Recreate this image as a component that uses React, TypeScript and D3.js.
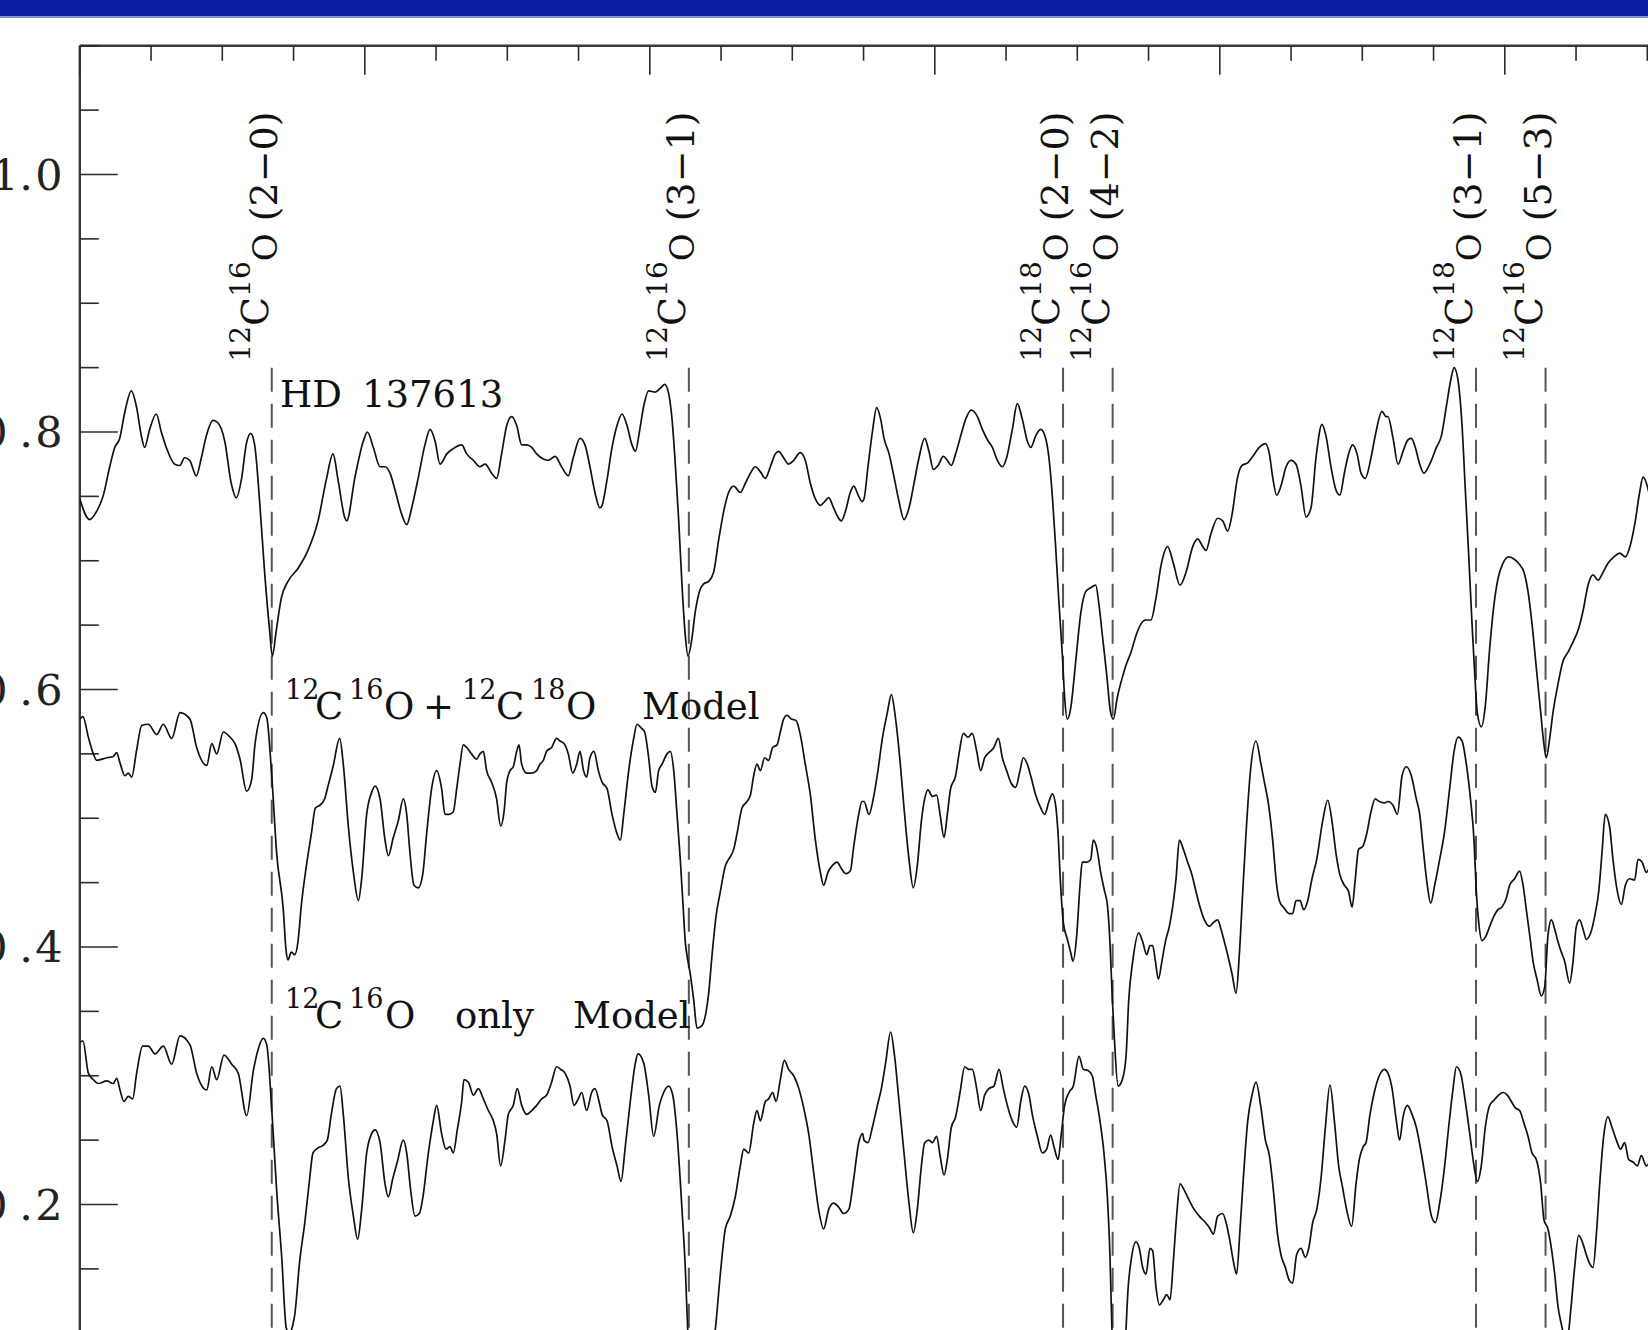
import React from "react";
import * as d3 from "d3";

// Spectrum of HD 137613 and two synthetic CO spectra (wavelength in µm, relative flux)
const observed: [number, number][] = [
  [2.28000,0.748],[2.28069,0.732],[2.28116,0.738],[2.28163,0.750],[2.28210,0.773],[2.28245,0.788],[2.28280,0.795],[2.28315,0.815],[2.28362,0.832],[2.28397,0.820],[2.28432,0.797],[2.28455,0.788],[2.28490,0.802],[2.28537,0.814],[2.28572,0.800],[2.28607,0.788],[2.28666,0.775],[2.28701,0.774],[2.28736,0.780],[2.28771,0.778],[2.28818,0.766],[2.28853,0.780],[2.28888,0.797],[2.28935,0.809],[2.28970,0.807],[2.29017,0.793],[2.29063,0.760],[2.29098,0.749],[2.29134,0.763],[2.29169,0.791],[2.29199,0.799],[2.29227,0.790],[2.29262,0.746],[2.29297,0.691],[2.29332,0.646],[2.29351,0.626],[2.29379,0.646],[2.29414,0.671],[2.29461,0.684],[2.29531,0.694],[2.29601,0.708],[2.29672,0.731],[2.29730,0.763],[2.29777,0.783],[2.29812,0.763],
  [2.29861,0.733],[2.29873,0.731],[2.29931,0.765],[2.29990,0.793],[2.30018,0.800],[2.30060,0.788],[2.30107,0.773],[2.30142,0.773],[2.30177,0.768],[2.30212,0.755],[2.30259,0.736],[2.30294,0.728],[2.30329,0.741],[2.30376,0.765],[2.30422,0.790],[2.30458,0.802],[2.30493,0.793],[2.30528,0.775],[2.30575,0.783],[2.30633,0.788],[2.30680,0.790],[2.30715,0.783],[2.30762,0.778],[2.30808,0.773],[2.30844,0.775],[2.30890,0.768],[2.30925,0.764],[2.30960,0.783],[2.30996,0.805],[2.31031,0.812],[2.31066,0.805],[2.31101,0.790],[2.31136,0.790],[2.31171,0.788],[2.31206,0.783],[2.31253,0.779],[2.31288,0.778],[2.31335,0.781],[2.31381,0.773],[2.31428,0.766],[2.31463,0.780],[2.31510,0.795],[2.31545,0.790],[2.31580,0.773],[2.31615,0.753],[2.31650,0.741],
  [2.31665,0.743],[2.31700,0.763],[2.31735,0.788],[2.31770,0.805],[2.31805,0.814],[2.31840,0.805],[2.31875,0.790],[2.31899,0.785],[2.31927,0.800],[2.31957,0.820],[2.31992,0.832],[2.32039,0.831],[2.32074,0.834],[2.32104,0.837],[2.32132,0.830],[2.32156,0.810],[2.32179,0.775],[2.32203,0.731],[2.32226,0.681],[2.32249,0.642],[2.32268,0.626],[2.32292,0.637],[2.32320,0.661],[2.32348,0.676],[2.32378,0.682],[2.32413,0.684],[2.32448,0.691],[2.32483,0.716],[2.32518,0.738],[2.32553,0.753],[2.32589,0.758],[2.32635,0.753],[2.32670,0.760],[2.32706,0.768],[2.32741,0.773],[2.32776,0.769],[2.32811,0.764],[2.32846,0.773],[2.32881,0.783],[2.32904,0.785],[2.32939,0.780],[2.32974,0.775],[2.33010,0.778],[2.33056,0.784],[2.33091,0.778],[2.33127,0.760],[2.33162,0.748],[2.33197,0.743],[2.33227,0.746],[2.33255,0.749],[2.33290,0.741],[2.33325,0.733],[2.33344,0.731],[2.33372,0.738],[2.33407,0.753],[2.33431,0.758],[2.33466,0.750],[2.33489,0.746],
  [2.33503,0.748],[2.33531,0.773],[2.33562,0.800],[2.33592,0.819],[2.33620,0.810],[2.33644,0.795],[2.33679,0.783],[2.33714,0.765],[2.33749,0.746],[2.33784,0.732],[2.33819,0.741],[2.33854,0.760],[2.33889,0.780],[2.33929,0.795],[2.33959,0.785],[2.33990,0.771],[2.34023,0.774],[2.34060,0.781],[2.34088,0.778],[2.34116,0.774],[2.34146,0.783],[2.34182,0.797],[2.34217,0.810],[2.34256,0.817],[2.34299,0.812],[2.34334,0.802],[2.34369,0.794],[2.34404,0.788],[2.34439,0.778],[2.34474,0.773],[2.34504,0.780],[2.34544,0.802],[2.34579,0.822],[2.34614,0.810],[2.34649,0.793],[2.34673,0.788],[2.34708,0.797],[2.34743,0.802],[2.34778,0.795],[2.34801,0.780],[2.34825,0.750],[2.34848,0.711],[2.34872,0.666],[2.34895,0.627],[2.34911,0.594],[2.34930,0.577],[2.34953,0.585],[2.34989,0.622],[2.35024,0.659],[2.35059,0.676],[2.35094,0.679],[2.35129,0.681],[2.35152,0.666],[2.35176,0.642],[2.35206,0.612],[2.35234,0.582],[2.35253,0.577],[2.35281,0.594],[2.35323,0.612],
  [2.35342,0.619],[2.35377,0.629],[2.35412,0.642],[2.35447,0.651],[2.35482,0.654],[2.35517,0.654],[2.35552,0.671],[2.35587,0.696],[2.35634,0.711],[2.35674,0.698],[2.35721,0.681],[2.35763,0.691],[2.35810,0.711],[2.35845,0.717],[2.35880,0.711],[2.35903,0.708],[2.35938,0.721],[2.35985,0.733],[2.36020,0.731],[2.36055,0.723],[2.36086,0.736],[2.36125,0.765],[2.36156,0.774],[2.36196,0.776],[2.36231,0.781],[2.36277,0.788],[2.36320,0.791],[2.36348,0.783],[2.36371,0.765],[2.36399,0.751],[2.36429,0.758],[2.36465,0.773],[2.36500,0.778],[2.36535,0.775],[2.36570,0.758],[2.36605,0.734],[2.36640,0.741],[2.36675,0.780],[2.36717,0.806],[2.36745,0.797],[2.36780,0.773],[2.36815,0.755],[2.36843,0.751],[2.36874,0.768],[2.36904,0.783],[2.36932,0.790],[2.36963,0.783],[2.36991,0.768],[2.37021,0.764],[2.37061,0.780],[2.37096,0.800],[2.37138,0.816],[2.37166,0.812],
  [2.37180,0.812],[2.37216,0.795],[2.37251,0.775],[2.37286,0.785],[2.37321,0.794],[2.37344,0.795],[2.37372,0.788],[2.37403,0.775],[2.37433,0.768],[2.37473,0.775],[2.37520,0.788],[2.37555,0.797],[2.37590,0.820],[2.37620,0.840],[2.37644,0.850],[2.37672,0.840],[2.37700,0.805],[2.37723,0.755],[2.37746,0.706],[2.37770,0.651],[2.37789,0.612],[2.37807,0.582],[2.37835,0.571],[2.37863,0.587],[2.37894,0.632],[2.37924,0.666],[2.37952,0.686],[2.37987,0.698],[2.38027,0.703],[2.38069,0.701],[2.38104,0.697],[2.38135,0.691],[2.38163,0.676],[2.38191,0.651],[2.38221,0.617],[2.38252,0.582],[2.38275,0.557],[2.38291,0.547],[2.38315,0.562],[2.38338,0.582],[2.38373,0.604],[2.38408,0.622],[2.38444,0.629],[2.38479,0.637],[2.38514,0.646],[2.38549,0.661],[2.38584,0.681],[2.38619,0.689],[2.38654,0.685],[2.38689,0.691],[2.38724,0.698],[2.38766,0.703],[2.38806,0.706],[2.38846,0.703],[2.38883,0.713],[2.38916,0.731],[2.38946,0.753],[2.38970,0.765],[2.39000,0.758],[2.39028,0.743],[2.39047,0.731],
];

const modelBoth: [number, number][] = [
  [2.28000,0.577],[2.28022,0.579],[2.28060,0.563],[2.28095,0.550],[2.28119,0.545],[2.28189,0.547],[2.28235,0.548],[2.28259,0.551],[2.28282,0.543],[2.28317,0.533],[2.28340,0.535],[2.28364,0.532],[2.28399,0.553],[2.28434,0.572],[2.28481,0.573],[2.28540,0.565],[2.28586,0.573],[2.28645,0.562],[2.28703,0.582],[2.28773,0.577],[2.28820,0.555],[2.28891,0.541],[2.28926,0.558],[2.28961,0.550],[2.29007,0.567],[2.29054,0.563],[2.29089,0.558],[2.29124,0.546],[2.29171,0.521],[2.29206,0.530],[2.29230,0.558],[2.29288,0.582],[2.29312,0.578],[2.29347,0.533],[2.29382,0.472],[2.29428,0.429],[2.29447,0.398],[2.29461,0.390],[2.29484,0.396],[2.29508,0.394],[2.29531,0.404],[2.29555,0.433],[2.29590,0.463],[2.29625,0.488],[2.29653,0.508],[2.29683,0.510],[2.29718,0.515],[2.29742,0.525],[2.29777,0.540],[2.29824,0.562],
  [2.29849,0.542],[2.29885,0.493],[2.29920,0.458],[2.29955,0.436],[2.29978,0.453],[2.30013,0.503],[2.30048,0.520],[2.30072,0.525],[2.30107,0.515],[2.30142,0.483],[2.30165,0.471],[2.30200,0.485],[2.30235,0.498],[2.30270,0.515],[2.30294,0.503],[2.30317,0.473],[2.30345,0.448],[2.30376,0.446],[2.30406,0.456],[2.30434,0.488],[2.30469,0.523],[2.30504,0.537],[2.30539,0.523],[2.30563,0.503],[2.30593,0.503],[2.30621,0.505],[2.30645,0.523],[2.30668,0.542],[2.30691,0.557],[2.30715,0.555],[2.30749,0.550],[2.30785,0.546],[2.30808,0.550],[2.30832,0.552],[2.30855,0.537],[2.30890,0.528],[2.30925,0.515],[2.30953,0.494],[2.30977,0.505],[2.30996,0.528],[2.31019,0.537],[2.31042,0.540],[2.31066,0.552],[2.31082,0.557],[2.31101,0.542],[2.31136,0.535],[2.31171,0.535],[2.31206,0.537],[2.31229,0.542],[2.31253,0.545],[2.31276,0.552],[2.31311,0.555],[2.31346,0.562],[2.31370,0.560],[2.31398,0.558],[2.31428,0.550],[2.31459,0.535],[2.31487,0.542],[2.31510,0.552],[2.31535,0.537],[2.31557,0.532],[2.31580,0.547],[2.31608,0.552],[2.31639,0.537],
  [2.31665,0.528],[2.31700,0.523],[2.31735,0.503],[2.31770,0.488],[2.31793,0.483],[2.31817,0.503],[2.31852,0.537],[2.31887,0.562],[2.31910,0.573],[2.31941,0.570],[2.31964,0.567],[2.31992,0.547],[2.32015,0.525],[2.32039,0.520],[2.32062,0.537],[2.32086,0.542],[2.32121,0.550],[2.32144,0.552],[2.32168,0.537],[2.32191,0.503],[2.32214,0.468],[2.32233,0.433],[2.32249,0.404],[2.32268,0.389],[2.32284,0.379],[2.32308,0.359],[2.32331,0.337],[2.32366,0.339],[2.32394,0.349],[2.32413,0.364],[2.32437,0.394],[2.32465,0.424],[2.32495,0.443],[2.32530,0.463],[2.32553,0.468],[2.32589,0.476],[2.32612,0.488],[2.32647,0.508],[2.32682,0.513],[2.32706,0.518],[2.32729,0.533],[2.32752,0.542],[2.32776,0.537],[2.32806,0.547],[2.32834,0.545],[2.32862,0.555],[2.32893,0.557],[2.32916,0.567],[2.32939,0.577],[2.32963,0.580],[2.32993,0.577],[2.33026,0.576],[2.33056,0.565],[2.33091,0.542],[2.33127,0.518],[2.33162,0.483],[2.33197,0.458],[2.33220,0.448],[2.33250,0.458],[2.33279,0.463],[2.33314,0.466],[2.33344,0.461],[2.33377,0.457],[2.33407,0.459],[2.33431,0.478],[2.33466,0.503],[2.33489,0.513],
  [2.33503,0.513],[2.33538,0.503],[2.33573,0.518],[2.33601,0.537],[2.33632,0.562],[2.33667,0.582],[2.33695,0.596],[2.33725,0.577],[2.33758,0.542],[2.33784,0.508],[2.33819,0.468],[2.33849,0.446],[2.33877,0.463],[2.33906,0.498],[2.33929,0.515],[2.33952,0.522],[2.33983,0.517],[2.34013,0.518],[2.34037,0.503],[2.34065,0.485],[2.34088,0.503],[2.34111,0.523],[2.34146,0.533],[2.34170,0.550],[2.34200,0.566],[2.34233,0.563],[2.34263,0.566],[2.34294,0.552],[2.34322,0.537],[2.34350,0.547],[2.34380,0.551],[2.34415,0.555],[2.34446,0.562],[2.34474,0.547],[2.34504,0.537],[2.34537,0.527],[2.34567,0.524],[2.34598,0.537],[2.34621,0.547],[2.34649,0.542],[2.34673,0.533],[2.34708,0.518],[2.34743,0.508],[2.34771,0.503],[2.34801,0.513],[2.34825,0.519],[2.34848,0.510],[2.34865,0.488],[2.34883,0.448],[2.34902,0.419],[2.34930,0.406],[2.34953,0.396],[2.34970,0.389],[2.34996,0.409],[2.35019,0.448],[2.35035,0.466],[2.35066,0.466],[2.35094,0.468],[2.35112,0.483],[2.35136,0.477],[2.35164,0.458],[2.35192,0.443],[2.35211,0.433],[2.35229,0.404],[2.35246,0.359],[2.35262,0.325],[2.35286,0.292],[2.35316,0.297],
  [2.35342,0.315],[2.35361,0.359],[2.35389,0.389],[2.35431,0.411],[2.35459,0.404],[2.35487,0.394],[2.35510,0.401],[2.35529,0.401],[2.35548,0.389],[2.35569,0.375],[2.35594,0.389],[2.35618,0.404],[2.35646,0.416],[2.35669,0.431],[2.35693,0.453],[2.35716,0.483],[2.35744,0.476],[2.35774,0.466],[2.35805,0.456],[2.35833,0.443],[2.35861,0.431],[2.35892,0.421],[2.35927,0.416],[2.35955,0.419],[2.35985,0.421],[2.36008,0.414],[2.36032,0.404],[2.36055,0.394],[2.36086,0.379],[2.36114,0.364],[2.36137,0.394],[2.36161,0.443],[2.36184,0.488],[2.36212,0.533],[2.36254,0.560],[2.36289,0.542],[2.36313,0.528],[2.36343,0.510],[2.36371,0.483],[2.36399,0.448],[2.36418,0.436],[2.36453,0.430],[2.36488,0.426],[2.36511,0.426],[2.36535,0.436],[2.36563,0.436],[2.36589,0.429],[2.36617,0.436],[2.36647,0.453],[2.36680,0.468],[2.36722,0.498],[2.36757,0.514],[2.36787,0.498],[2.36815,0.473],[2.36843,0.456],[2.36874,0.448],[2.36904,0.443],[2.36928,0.431],[2.36951,0.453],[2.36974,0.476],[2.37003,0.478],[2.37031,0.488],[2.37061,0.505],[2.37091,0.515],[2.37119,0.513],[2.37155,0.512],
  [2.37180,0.513],[2.37216,0.510],[2.37246,0.503],[2.37279,0.533],[2.37309,0.540],[2.37344,0.533],[2.37379,0.515],[2.37403,0.503],[2.37426,0.478],[2.37456,0.448],[2.37480,0.434],[2.37508,0.448],[2.37543,0.468],[2.37578,0.490],[2.37613,0.523],[2.37644,0.552],[2.37672,0.563],[2.37700,0.560],[2.37730,0.542],[2.37761,0.513],[2.37784,0.483],[2.37800,0.443],[2.37817,0.419],[2.37840,0.405],[2.37870,0.409],[2.37894,0.416],[2.37924,0.424],[2.37952,0.429],[2.37980,0.431],[2.38011,0.438],[2.38034,0.448],[2.38069,0.453],[2.38104,0.459],[2.38128,0.448],[2.38151,0.429],[2.38175,0.409],[2.38198,0.389],[2.38228,0.374],[2.38256,0.362],[2.38280,0.369],[2.38303,0.409],[2.38327,0.421],[2.38350,0.414],[2.38373,0.404],[2.38397,0.396],[2.38420,0.389],[2.38455,0.372],[2.38479,0.389],[2.38502,0.416],[2.38525,0.421],[2.38549,0.414],[2.38572,0.406],[2.38603,0.411],[2.38631,0.424],[2.38659,0.443],[2.38682,0.473],[2.38705,0.503],[2.38736,0.493],[2.38759,0.468],[2.38790,0.443],[2.38818,0.433],[2.38846,0.448],[2.38876,0.453],[2.38911,0.452],[2.38935,0.468],[2.38963,0.466],[2.38993,0.458],[2.39028,0.463],[2.39047,0.461],
];

const model16: [number, number][] = [
  [2.28000,0.326],[2.28022,0.327],[2.28060,0.302],[2.28095,0.297],[2.28130,0.294],[2.28189,0.296],[2.28235,0.294],[2.28259,0.298],[2.28282,0.289],[2.28310,0.280],[2.28340,0.284],[2.28371,0.282],[2.28399,0.302],[2.28441,0.323],[2.28481,0.323],[2.28528,0.317],[2.28586,0.323],[2.28645,0.309],[2.28703,0.331],[2.28773,0.324],[2.28820,0.302],[2.28891,0.289],[2.28926,0.307],[2.28961,0.297],[2.29012,0.316],[2.29066,0.309],[2.29112,0.302],[2.29171,0.269],[2.29218,0.304],[2.29241,0.316],[2.29288,0.329],[2.29312,0.324],[2.29347,0.274],[2.29382,0.210],[2.29417,0.159],[2.29449,0.104],[2.29473,0.100],[2.29496,0.107],[2.29508,0.114],[2.29543,0.156],[2.29579,0.186],[2.29613,0.220],[2.29636,0.240],[2.29672,0.244],[2.29707,0.246],[2.29737,0.250],[2.29765,0.270],[2.29801,0.290],[2.29826,0.292],
  [2.29849,0.270],[2.29885,0.220],[2.29920,0.191],[2.29950,0.173],[2.29978,0.196],[2.30013,0.240],[2.30048,0.255],[2.30072,0.258],[2.30107,0.248],[2.30142,0.216],[2.30165,0.206],[2.30196,0.220],[2.30228,0.233],[2.30270,0.250],[2.30294,0.240],[2.30322,0.211],[2.30352,0.191],[2.30383,0.193],[2.30408,0.206],[2.30446,0.240],[2.30481,0.265],[2.30504,0.277],[2.30539,0.255],[2.30570,0.243],[2.30598,0.245],[2.30621,0.240],[2.30649,0.258],[2.30680,0.280],[2.30696,0.297],[2.30727,0.295],[2.30762,0.285],[2.30797,0.290],[2.30832,0.282],[2.30867,0.273],[2.30902,0.265],[2.30925,0.255],[2.30953,0.230],[2.30984,0.250],[2.31007,0.270],[2.31042,0.277],[2.31070,0.290],[2.31101,0.277],[2.31136,0.270],[2.31171,0.273],[2.31206,0.277],[2.31241,0.282],[2.31276,0.285],[2.31311,0.295],[2.31346,0.307],[2.31374,0.305],[2.31405,0.302],[2.31440,0.292],[2.31468,0.277],[2.31498,0.282],[2.31522,0.287],[2.31557,0.273],[2.31592,0.287],[2.31615,0.290],[2.31650,0.277],
  [2.31665,0.270],[2.31700,0.265],[2.31735,0.245],[2.31770,0.230],[2.31798,0.218],[2.31828,0.245],[2.31863,0.280],[2.31899,0.310],[2.31917,0.317],[2.31957,0.310],[2.31992,0.285],[2.32027,0.253],[2.32067,0.277],[2.32097,0.287],[2.32132,0.292],[2.32161,0.285],[2.32191,0.255],[2.32226,0.196],[2.32249,0.151],[2.32266,0.103],[2.32300,0.060],[2.32340,0.045],[2.32400,0.060],[2.32460,0.103],[2.32495,0.146],[2.32530,0.181],[2.32565,0.191],[2.32600,0.206],[2.32635,0.230],[2.32659,0.243],[2.32694,0.240],[2.32729,0.263],[2.32752,0.273],[2.32776,0.265],[2.32811,0.280],[2.32834,0.282],[2.32862,0.287],[2.32886,0.280],[2.32916,0.297],[2.32944,0.312],[2.32974,0.305],[2.33010,0.300],[2.33046,0.290],[2.33080,0.275],[2.33115,0.255],[2.33150,0.225],[2.33185,0.196],[2.33220,0.181],[2.33255,0.196],[2.33290,0.201],[2.33325,0.198],[2.33360,0.193],[2.33396,0.196],[2.33431,0.220],[2.33466,0.248],[2.33494,0.255],
  [2.33503,0.250],[2.33531,0.248],[2.33562,0.260],[2.33597,0.277],[2.33625,0.290],[2.33655,0.310],[2.33690,0.334],[2.33718,0.315],[2.33749,0.280],[2.33784,0.240],[2.33819,0.201],[2.33849,0.178],[2.33877,0.196],[2.33906,0.230],[2.33929,0.248],[2.33959,0.250],[2.33983,0.248],[2.34013,0.253],[2.34037,0.238],[2.34065,0.223],[2.34088,0.235],[2.34116,0.260],[2.34146,0.268],[2.34177,0.287],[2.34210,0.307],[2.34240,0.305],[2.34263,0.305],[2.34294,0.290],[2.34322,0.273],[2.34350,0.285],[2.34380,0.290],[2.34415,0.292],[2.34451,0.305],[2.34481,0.290],[2.34509,0.277],[2.34544,0.265],[2.34575,0.260],[2.34603,0.280],[2.34631,0.292],[2.34661,0.285],[2.34684,0.270],[2.34720,0.253],[2.34755,0.240],[2.34785,0.243],[2.34813,0.254],[2.34836,0.245],[2.34865,0.235],[2.34888,0.255],[2.34911,0.277],[2.34942,0.287],[2.34972,0.292],[2.35012,0.315],[2.35042,0.305],[2.35075,0.304],[2.35105,0.300],[2.35129,0.285],[2.35159,0.265],[2.35187,0.240],[2.35211,0.206],[2.35229,0.161],[2.35243,0.103],[2.35281,0.040],[2.35320,0.060],
  [2.35342,0.103],[2.35354,0.131],[2.35377,0.156],[2.35412,0.171],[2.35435,0.166],[2.35459,0.151],[2.35482,0.146],[2.35510,0.166],[2.35529,0.164],[2.35552,0.136],[2.35576,0.122],[2.35604,0.126],[2.35627,0.130],[2.35651,0.126],[2.35674,0.156],[2.35697,0.191],[2.35721,0.216],[2.35751,0.211],[2.35786,0.203],[2.35821,0.196],[2.35856,0.191],[2.35899,0.186],[2.35927,0.182],[2.35955,0.177],[2.35985,0.191],[2.36020,0.193],[2.36044,0.186],[2.36072,0.171],[2.36095,0.156],[2.36118,0.146],[2.36142,0.181],[2.36165,0.220],[2.36196,0.265],[2.36226,0.285],[2.36254,0.295],[2.36289,0.275],[2.36320,0.250],[2.36348,0.238],[2.36376,0.211],[2.36406,0.176],[2.36429,0.161],[2.36460,0.151],[2.36488,0.141],[2.36511,0.139],[2.36539,0.161],[2.36570,0.166],[2.36600,0.159],[2.36624,0.166],[2.36652,0.186],[2.36680,0.196],[2.36710,0.220],[2.36741,0.260],[2.36773,0.293],[2.36804,0.265],[2.36834,0.230],[2.36862,0.213],[2.36890,0.196],[2.36925,0.183],[2.36956,0.216],[2.36979,0.235],[2.37007,0.245],[2.37026,0.248],[2.37054,0.270],[2.37084,0.287],[2.37119,0.300],[2.37155,0.305],
  [2.37180,0.302],[2.37209,0.290],[2.37239,0.265],[2.37262,0.250],[2.37286,0.268],[2.37316,0.277],[2.37349,0.270],[2.37379,0.260],[2.37414,0.240],[2.37449,0.216],[2.37485,0.191],[2.37513,0.186],[2.37543,0.201],[2.37578,0.230],[2.37606,0.260],[2.37637,0.290],[2.37660,0.307],[2.37690,0.302],[2.37723,0.280],[2.37754,0.255],[2.37784,0.230],[2.37807,0.218],[2.37835,0.230],[2.37863,0.260],[2.37894,0.277],[2.37924,0.281],[2.37957,0.285],[2.37987,0.287],[2.38018,0.285],[2.38046,0.280],[2.38074,0.275],[2.38104,0.273],[2.38135,0.263],[2.38163,0.253],[2.38191,0.240],[2.38221,0.235],[2.38252,0.216],[2.38275,0.188],[2.38303,0.181],[2.38327,0.166],[2.38350,0.146],[2.38373,0.121],[2.38397,0.107],[2.38420,0.097],[2.38444,0.099],[2.38462,0.117],[2.38490,0.151],[2.38518,0.176],[2.38544,0.171],[2.38572,0.161],[2.38596,0.154],[2.38619,0.151],[2.38642,0.176],[2.38666,0.216],[2.38696,0.255],[2.38724,0.268],[2.38752,0.260],[2.38783,0.250],[2.38813,0.243],[2.38841,0.248],[2.38869,0.235],[2.38900,0.233],[2.38930,0.230],[2.38958,0.238],[2.38993,0.230],[2.39028,0.235],[2.39047,0.238],
];

// CO bandheads marked with dashed lines
const lineWavelengths = [2.29347, 2.32274, 2.34900, 2.35248, 2.37798, 2.38286];
const lineIsotopes = ["16", "16", "18", "16", "18", "16"];
const lineBands = ["2\u22120", "3\u22121", "2\u22120", "4\u22122", "3\u22121", "5\u22123"];
const lineTop = 0.85;

const yTickValues = [0.2, 0.4, 0.6, 0.8, 1.0];
const yTickLabels = ["0.2", "0.4", "0.6", "0.8", "1.0"];

const W = 1648;
const H = 1330;
const FONT = "'DejaVu Serif', 'Liberation Serif', serif";

// glyph centres for the proportional tick-label digits
const glyphCentres = (label: string) => {
  const first = label[0] === "1" ? 5 : -6;
  return `${first} 26 49`;
};

export default function App() {
  const x = d3.scaleLinear().domain([2.28, 2.40]).range([79.8, 1789.8]);
  const y = d3.scaleLinear().domain([0.1, 1.1]).range([1333.25, 45.75]);
  const line = d3
    .line<[number, number]>()
    .x((d) => x(d[0]))
    .y((d) => y(d[1]))
    .curve(d3.curveMonotoneX);

  const x0 = x(2.28);
  const yTop = y(1.1);
  const xMinor = d3.range(0, 23).map((i) => 2.28 + i * 0.005);
  const yMinor = d3.range(0, 20).map((i) => 0.15 + i * 0.05);
  const isMajorX = (v: number) => Math.abs(Math.round(v * 50) - v * 50) < 1e-6;
  const isMajorY = (v: number) => Math.abs(Math.round(v * 5) - v * 5) < 1e-6;

  // horizontal curve labels
  const hMain = 37;
  const hSup = 27;
  const hRise = 20;
  // rotated bandhead labels
  const vMain = 38;
  const vSup = 28;
  const vO = 34;

  return (
    <svg
      width={W}
      height={H}
      viewBox={`0 0 ${W} ${H}`}
      style={{ position: "absolute", left: 0, top: 0, display: "block" }}
      fontFamily={FONT}
    >
      <defs>
        <clipPath id="plotClip">
          <rect x={x0} y={yTop} width={W - x0} height={H - yTop} />
        </clipPath>
      </defs>
      <rect x={0} y={0} width={W} height={H} fill="#ffffff" />
      <rect x={0} y={0} width={W} height={16} fill="#0a1ca2" />
      <rect x={0} y={16} width={W} height={2} fill="#8593d4" />

      {/* axes frame */}
      <line x1={x0} y1={yTop} x2={W} y2={yTop} stroke="#3a3a3a" strokeWidth={2.4} />
      <line x1={x0} y1={yTop} x2={x0} y2={H} stroke="#3a3a3a" strokeWidth={2.4} />
      {xMinor.map((v, i) => (
        <line
          key={"xt" + i}
          x1={x(v)}
          x2={x(v)}
          y1={yTop}
          y2={yTop + (isMajorX(v) ? 29 : 15)}
          stroke="#2a2a2a"
          strokeWidth={1.6}
        />
      ))}
      {yMinor.map((v, i) => (
        <line
          key={"yt" + i}
          x1={x0}
          x2={x0 + (isMajorY(v) ? 38 : 19)}
          y1={y(v)}
          y2={y(v)}
          stroke="#2a2a2a"
          strokeWidth={1.6}
        />
      ))}
      {yTickValues.map((v, i) => (
        <text
          key={"yl" + i}
          x={glyphCentres(yTickLabels[i])}
          y={y(v) + 15}
          textAnchor="middle"
          fontSize={43}
          fill="#222"
        >
          {yTickLabels[i]}
        </text>
      ))}

      {/* bandhead markers */}
      {lineWavelengths.map((w, i) => (
        <line
          key={"dl" + i}
          x1={x(w)}
          x2={x(w)}
          y1={y(lineTop)}
          y2={H}
          stroke="#555"
          strokeWidth={2}
          strokeDasharray="24 12"
        />
      ))}
      {lineWavelengths.map((w, i) => (
        <g key={"lb" + i} transform={`translate(${x(w) + 5},${y(lineTop) - 6}) rotate(-90)`}>
          <text fontSize={vMain} fill="#111">
            <tspan fontSize={vSup} dy={-27}>12</tspan>
            <tspan dy={18}>C</tspan>
            <tspan fontSize={vSup} dy={-18}>{lineIsotopes[i]}</tspan>
            <tspan fontSize={vO} dy={27}>O</tspan>
            <tspan>{" (" + lineBands[i] + ")"}</tspan>
          </text>
        </g>
      ))}

      {/* spectra */}
      <g clipPath="url(#plotClip)" fill="none" stroke="#111" strokeWidth={1.7} strokeLinejoin="round">
        <path d={line(observed) || ""} />
        <path d={line(modelBoth) || ""} />
        <path d={line(model16) || ""} />
      </g>

      {/* curve labels */}
      <g fill="#111" fontSize={hMain}>
        <text y={407}>
          <tspan x={280}>HD</tspan>
          <tspan x={362}>137613</tspan>
        </text>

        <text y={719}>
          <tspan x={285} dy={-hRise} fontSize={hSup}>12</tspan>
          <tspan x={315} dy={hRise}>C</tspan>
          <tspan x={349} dy={-hRise} fontSize={hSup}>16</tspan>
          <tspan x={384} dy={hRise}>O</tspan>
          <tspan x={423}>+</tspan>
          <tspan x={462} dy={-hRise} fontSize={hSup}>12</tspan>
          <tspan x={496} dy={hRise}>C</tspan>
          <tspan x={531} dy={-hRise} fontSize={hSup}>18</tspan>
          <tspan x={566} dy={hRise}>O</tspan>
          <tspan x={642}>Model</tspan>
        </text>

        <text y={1028}>
          <tspan x={285} dy={-hRise} fontSize={hSup}>12</tspan>
          <tspan x={315} dy={hRise}>C</tspan>
          <tspan x={349} dy={-hRise} fontSize={hSup}>16</tspan>
          <tspan x={385} dy={hRise}>O</tspan>
          <tspan x={455}>only</tspan>
          <tspan x={573}>Model</tspan>
        </text>
      </g>
    </svg>
  );
}
